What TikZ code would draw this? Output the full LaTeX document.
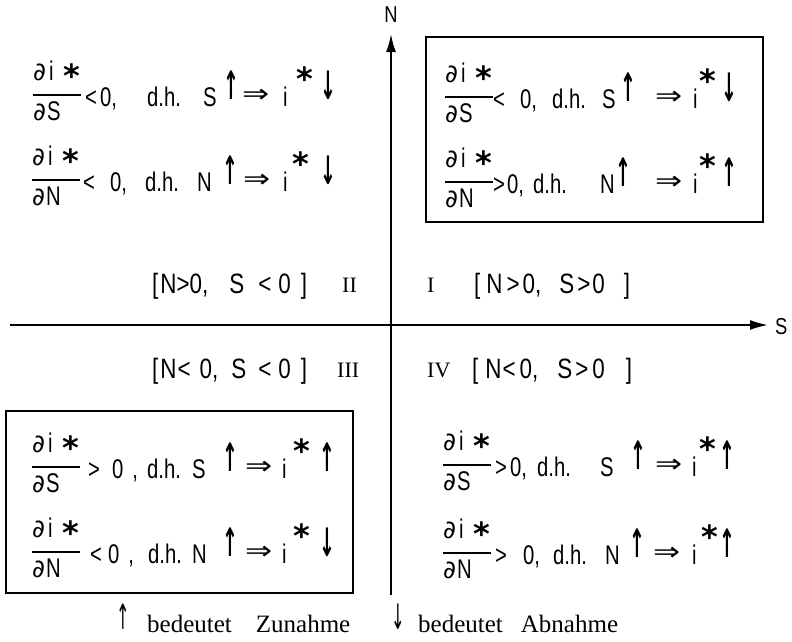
\documentclass[tikz,border=0pt]{standalone}
\usepackage{fontspec}
\setmainfont{Liberation Sans}[FakeStretch=0.8]
\newfontfamily\eqf{Liberation Sans}[FakeStretch=0.75]
\newfontfamily\symf{DejaVu Sans}
\newfontfamily\serf{Liberation Serif}
\usetikzlibrary{arrows.meta}
\newcommand\upa{\scalebox{0.7}[1.45]{↑}}
\newcommand\dna{\scalebox{0.7}[1.45]{↓}}
\newcommand\impl{\scalebox{1.35}[1.05]{⇒}}
\newcommand\pd{{\symf\fontsize{25}{28}\selectfont ∂}}
\tikzset{
  eq/.style={font=\eqf\fontsize{27}{30}\selectfont, inner sep=0pt, anchor=base west},
  st/.style={font=\symf\bfseries\fontsize{32}{34}\selectfont, inner sep=0pt, anchor=north},
  ar/.style={font=\symf\bfseries\fontsize{27}{30}\selectfont, inner sep=0pt, anchor=north},
  im/.style={font=\symf\fontsize{24}{26}\selectfont, inner sep=0pt, anchor=north west},
  lab/.style={font=\fontsize{28}{30}\selectfont, inner sep=0pt, anchor=base west},
  rom/.style={font=\serf\fontsize{22}{24}\selectfont, inner sep=0pt, anchor=base west},
  ft/.style={font=\serf\fontsize{25}{28}\selectfont, inner sep=0pt, anchor=base west},
  farr/.style={font=\symf\fontsize{27}{30}\selectfont, inner sep=0pt, anchor=north},
  axlab/.style={font=\fontsize{23}{25}\selectfont, inner sep=0pt},
  axis/.style={line width=2.8pt, -{Latex[length=19pt,width=10pt]}},
  frame/.style={line width=1.9pt},
  fbar/.style={line width=1.8pt},
}
\begin{document}
\begin{tikzpicture}[x=1pt,y=-1pt]
\useasboundingbox (0,0) rectangle (792,641);
\fill[white] (0,0) rectangle (792,641);

% axes
\coordinate (hl) at (10,325);
\coordinate (hr) at (769,325);
\coordinate (vb) at (391,595);
\coordinate (vt) at (391,33);
\draw[axis] (hl) -- (hr);
\draw[axis] (vb) -- (vt);
\node[axlab, anchor=south] (Nlab) at (391,23) {N};
\node[axlab, anchor=base west] (Slab) at (775,334) {S};

% boxes
\draw[frame] (426,37) rectangle (763,222);
\draw[frame] (6,411) rectangle (353,593);

% equation rows
\foreach \n/\xo/\B/\den/\rel/\xr/\zt/\xz/\xd/\v/\xv/\xa/\xim/\xi/\xs/\res/\xres in {
  q2a/33/95/S/</85/{0,}/100/147/S/203/231/242/283/305/\dna/328,
  q2b/32/180/N/</83/{0,}/110/145/N/197/230/243/283/301/\dna/328,
  q1a/445/97/S/</493/{0,}/520/552/S/602/628/655/693/708/\dna/729,
  q1b/445/182/N/>/493/{0,}/507/533/N/600/623/655/693/708/\upa/729,
  q3a/32/467/S/>/88/{0\hspace{9pt},}/112/147/S/192/230/245/282/302/\upa/327,
  q3b/32/552/N/</90/{0\hspace{9pt},}/108/148/N/192/230/245/282/302/\dna/327,
  q4a/443/465/S/>/495/{0,}/510/537/S/600/638/655/692/708/\upa/727,
  q4b/443/553/N/>/495/{0,}/523/553/N/605/637/653/692/710/\upa/727}{
  \node[eq] (\n-num) at (\xo,\B-15) {\pd\hspace{3pt}i};
  \node[st] (\n-ns) at (\xo+39,\B-31) {*};
  \draw[fbar] (\xo,\B) -- (\xo+48,\B);
  \node[eq] (\n-den) at (\xo,\B+25) {\pd\hspace{1pt}\den};
  \node[eq] (\n-rel) at (\xr,\B+11) {\rel};
  \node[eq] (\n-z) at (\xz,\B+11) {\zt};
  \node[eq] (\n-dh) at (\xd,\B+11) {d.h.};
  \node[eq] (\n-v) at (\xv,\B+11) {\v};
  \node[ar] (\n-va) at (\xa,\B-24) {\upa};
  \node[im] (\n-im) at (\xim,\B-6) {\impl};
  \node[eq] (\n-i) at (\xi,\B+11) {i};
  \node[st] (\n-s) at (\xs,\B-28) {*};
  \node[ar] (\n-r) at (\xres,\B-24) {\res};
}

% quadrant labels
\node[lab] (l2) at (152,293) {[\hspace{2pt}N>0,\hspace{21pt}S\hspace{14pt}<\hspace{7pt}0\hspace{10pt}]};
\node[rom] (r2) at (342,292) {II};
\node[rom] (r1) at (427,292) {I};
\node[lab] (l1) at (474,293) {[\hspace{6pt}N\hspace{4pt}>\hspace{3pt}0,\hspace{18pt}S\hspace{3pt}>\hspace{2pt}0\hspace{19pt}]};
\node[lab] (l3) at (152,378) {[\hspace{2pt}N\hspace{1pt}<\hspace{9pt}0,\hspace{13pt}S\hspace{12pt}<\hspace{7pt}0\hspace{10pt}]};
\node[rom] (r3) at (337,377) {III};
\node[rom] (r4) at (427,377) {IV};
\node[lab] (l4) at (472,378) {[\hspace{7pt}N\hspace{1pt}<\hspace{4pt}0,\hspace{19pt}S\hspace{3pt}>\hspace{4pt}0\hspace{21pt}]};

% footer
\node[farr] (fa1) at (123,604) {\scalebox{0.6}[1.3]{↑}};
\node[ft] (ft1) at (147,632) {bedeutet\hspace{24pt}Zunahme};
\node[farr] (fa2) at (398,604) {\scalebox{0.6}[1.3]{↓}};
\node[ft] (ft2) at (418,632) {bedeutet\hspace{18pt}Abnahme};
\end{tikzpicture}
\end{document}
